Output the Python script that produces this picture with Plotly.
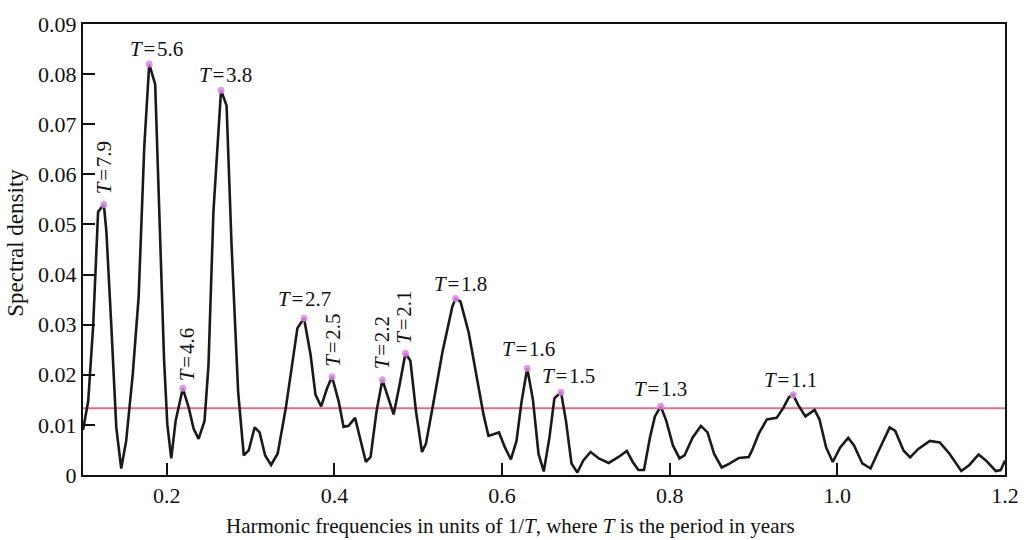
import numpy as np
import plotly.graph_objects as go

# ---- data ----
freq = [0.1000, 0.1062, 0.1121, 0.1180, 0.1248, 0.1279, 0.1338, 0.1397, 0.1456, 0.1515,
        0.1593, 0.1664, 0.1731, 0.1790, 0.1861, 0.1908, 0.1967, 0.2006, 0.2053, 0.2105,
        0.2191, 0.2262, 0.2320, 0.2379, 0.2450, 0.2497, 0.2556, 0.2647, 0.2713, 0.2772,
        0.2851, 0.2918, 0.2977, 0.3048, 0.3107, 0.3173, 0.3244, 0.3323, 0.3420, 0.3558,
        0.3637, 0.3715, 0.3774, 0.3841, 0.3912, 0.3971, 0.4050, 0.4109, 0.4168, 0.4246,
        0.4305, 0.4375, 0.4431, 0.4502, 0.4572, 0.4639, 0.4706, 0.4776, 0.4847, 0.4906,
        0.4973, 0.5044, 0.5091, 0.5170, 0.5288, 0.5406, 0.5445, 0.5504, 0.5602, 0.5701,
        0.5778, 0.5837, 0.5916, 0.5963, 0.6034, 0.6105, 0.6172, 0.6231, 0.6300, 0.6368,
        0.6435, 0.6497, 0.6565, 0.6624, 0.6703, 0.6762, 0.6828, 0.6898, 0.6969, 0.7056,
        0.7154, 0.7272, 0.7390, 0.7488, 0.7559, 0.7626, 0.7693, 0.7764, 0.7823, 0.7893,
        0.7959, 0.8038, 0.8117, 0.8176, 0.8274, 0.8372, 0.8451, 0.8530, 0.8620, 0.8707,
        0.8825, 0.8943, 0.8982, 0.9061, 0.9159, 0.9276, 0.9355, 0.9421, 0.9473, 0.9532,
        0.9619, 0.9728, 0.9787, 0.9866, 0.9945, 1.0034, 1.0129, 1.0199, 1.0298, 1.0396,
        1.0494, 1.0624, 1.0691, 1.0789, 1.0868, 1.0966, 1.1104, 1.1222, 1.1340, 1.1478,
        1.1575, 1.1685, 1.1772, 1.1890, 1.1949, 1.2000]

density = [0.0090, 0.0147, 0.0297, 0.0525, 0.0540, 0.0486, 0.0297, 0.0095, 0.0013, 0.0068,
           0.0200, 0.0356, 0.0655, 0.0820, 0.0780, 0.0525, 0.0231, 0.0101, 0.0033, 0.0108,
           0.0173, 0.0134, 0.0092, 0.0072, 0.0108, 0.0219, 0.0525, 0.0768, 0.0737, 0.0460,
           0.0166, 0.0039, 0.0049, 0.0095, 0.0085, 0.0039, 0.0020, 0.0043, 0.0134, 0.0293,
           0.0313, 0.0240, 0.0160, 0.0137, 0.0173, 0.0196, 0.0147, 0.0096, 0.0098, 0.0114,
           0.0075, 0.0026, 0.0036, 0.0127, 0.0190, 0.0157, 0.0121, 0.0179, 0.0243, 0.0228,
           0.0127, 0.0046, 0.0062, 0.0134, 0.0245, 0.0336, 0.0352, 0.0346, 0.0284, 0.0192,
           0.0121, 0.0078, 0.0082, 0.0085, 0.0055, 0.0031, 0.0068, 0.0145, 0.0213, 0.0150,
           0.0042, 0.0007, 0.0075, 0.0153, 0.0165, 0.0108, 0.0023, 0.0005, 0.0029, 0.0046,
           0.0033, 0.0024, 0.0036, 0.0048, 0.0026, 0.0010, 0.0010, 0.0075, 0.0117, 0.0137,
           0.0108, 0.0059, 0.0033, 0.0039, 0.0075, 0.0098, 0.0085, 0.0042, 0.0015, 0.0022,
           0.0034, 0.0036, 0.0049, 0.0082, 0.0111, 0.0114, 0.0134, 0.0155, 0.0160, 0.0140,
           0.0117, 0.0130, 0.0111, 0.0055, 0.0026, 0.0055, 0.0074, 0.0059, 0.0023, 0.0013,
           0.0049, 0.0095, 0.0088, 0.0049, 0.0035, 0.0052, 0.0068, 0.0065, 0.0042, 0.0008,
           0.0020, 0.0041, 0.0029, 0.0008, 0.0010, 0.0029]

peak_freq = [0.1248, 0.1790, 0.2191, 0.2647, 0.3637, 0.3971, 0.4572, 0.4847,
             0.5445, 0.6300, 0.6703, 0.7893, 0.9473]
peak_period = ["7.9", "5.6", "4.6", "3.8", "2.7", "2.5", "2.2", "2.1",
               "1.8", "1.6", "1.5", "1.3", "1.1"]
threshold = 0.0133

x_tickvals = [0.2, 0.4, 0.6, 0.8, 1.0, 1.2]
x_ticktext = ["0.2", "0.4", "0.6", "0.8", "1.0", "1.2"]
y_tickvals = [0, 0.01, 0.02, 0.03, 0.04, 0.05, 0.06, 0.07, 0.08, 0.09]
y_ticktext = ["0", "0.01", "0.02", "0.03", "0.04", "0.05", "0.06", "0.07", "0.08", "0.09"]

x_title = "Harmonic frequencies in units of 1/<i>T</i>, where <i>T</i> is the period in years"
y_title = "Spectral density"

# ---- label styling (rotation, pixel offsets) ----
label_vertical = [True, False, True, False, False, True, True, True,
                  False, False, False, False, False]
label_dx = [1, 7, 4, 4, 0, 1, -1, -1, 5, 1, 7, 0, -3]
label_dy = [37, 15, 34, 15, 19, 36, 37, 36, 15, 19, 16, 17, 15]

FONT = "Liberation Serif, Times New Roman, serif"
HS = "\u200a"

peak_val = list(np.interp(peak_freq, freq, density))

fig = go.Figure()
fig.add_trace(go.Scatter(x=[0.1, 1.2], y=[threshold, threshold], mode="lines",
                         line=dict(color="#d9728f", width=2), hoverinfo="skip",
                         showlegend=False))
fig.add_trace(go.Scatter(x=freq, y=density, mode="lines",
                         line=dict(color="#1a1a1a", width=2.6),
                         showlegend=False))
fig.add_trace(go.Scatter(x=peak_freq, y=peak_val, mode="markers",
                         marker=dict(color="#dc8ae6", size=7, opacity=0.85),
                         showlegend=False))

for f, v, p, vert, dx, dy in zip(peak_freq, peak_val, peak_period,
                                 label_vertical, label_dx, label_dy):
    fig.add_annotation(x=f, y=v, text="<i>T</i>" + HS + "=" + HS + p, showarrow=False,
                       xshift=dx, yshift=dy, textangle=-90 if vert else 0,
                       xanchor="center", yanchor="middle",
                       font=dict(family=FONT, size=21, color="#111"))

# axis titles as annotations (positioned like the reference)
fig.add_annotation(xref="paper", yref="paper", x=0.464, y=0, yshift=-51,
                   text=x_title, showarrow=False, xanchor="center", yanchor="middle",
                   font=dict(family=FONT, size=21, color="#111"))
fig.add_annotation(xref="paper", yref="paper", x=0, y=0.515, xshift=-67,
                   text=y_title, showarrow=False, textangle=-90,
                   xanchor="center", yanchor="middle",
                   font=dict(family=FONT, size=23, color="#111"))

axis_common = dict(showline=True, linecolor="#111", linewidth=2, mirror=True,
                   ticks="inside", ticklen=12, tickwidth=1.5, tickcolor="#111",
                   showgrid=False, zeroline=False,
                   tickfont=dict(family=FONT, size=22, color="#111"))

fig.update_xaxes(range=[0.1, 1.2], tickvals=x_tickvals, ticktext=x_ticktext, **axis_common)
fig.update_yaxes(range=[0, 0.09], tickvals=y_tickvals, ticktext=y_ticktext, **axis_common)

fig.update_layout(width=1031, height=540, margin=dict(l=83, r=15, t=15, b=65),
                  paper_bgcolor="white", plot_bgcolor="white", showlegend=False)

fig.write_html("out.html")
